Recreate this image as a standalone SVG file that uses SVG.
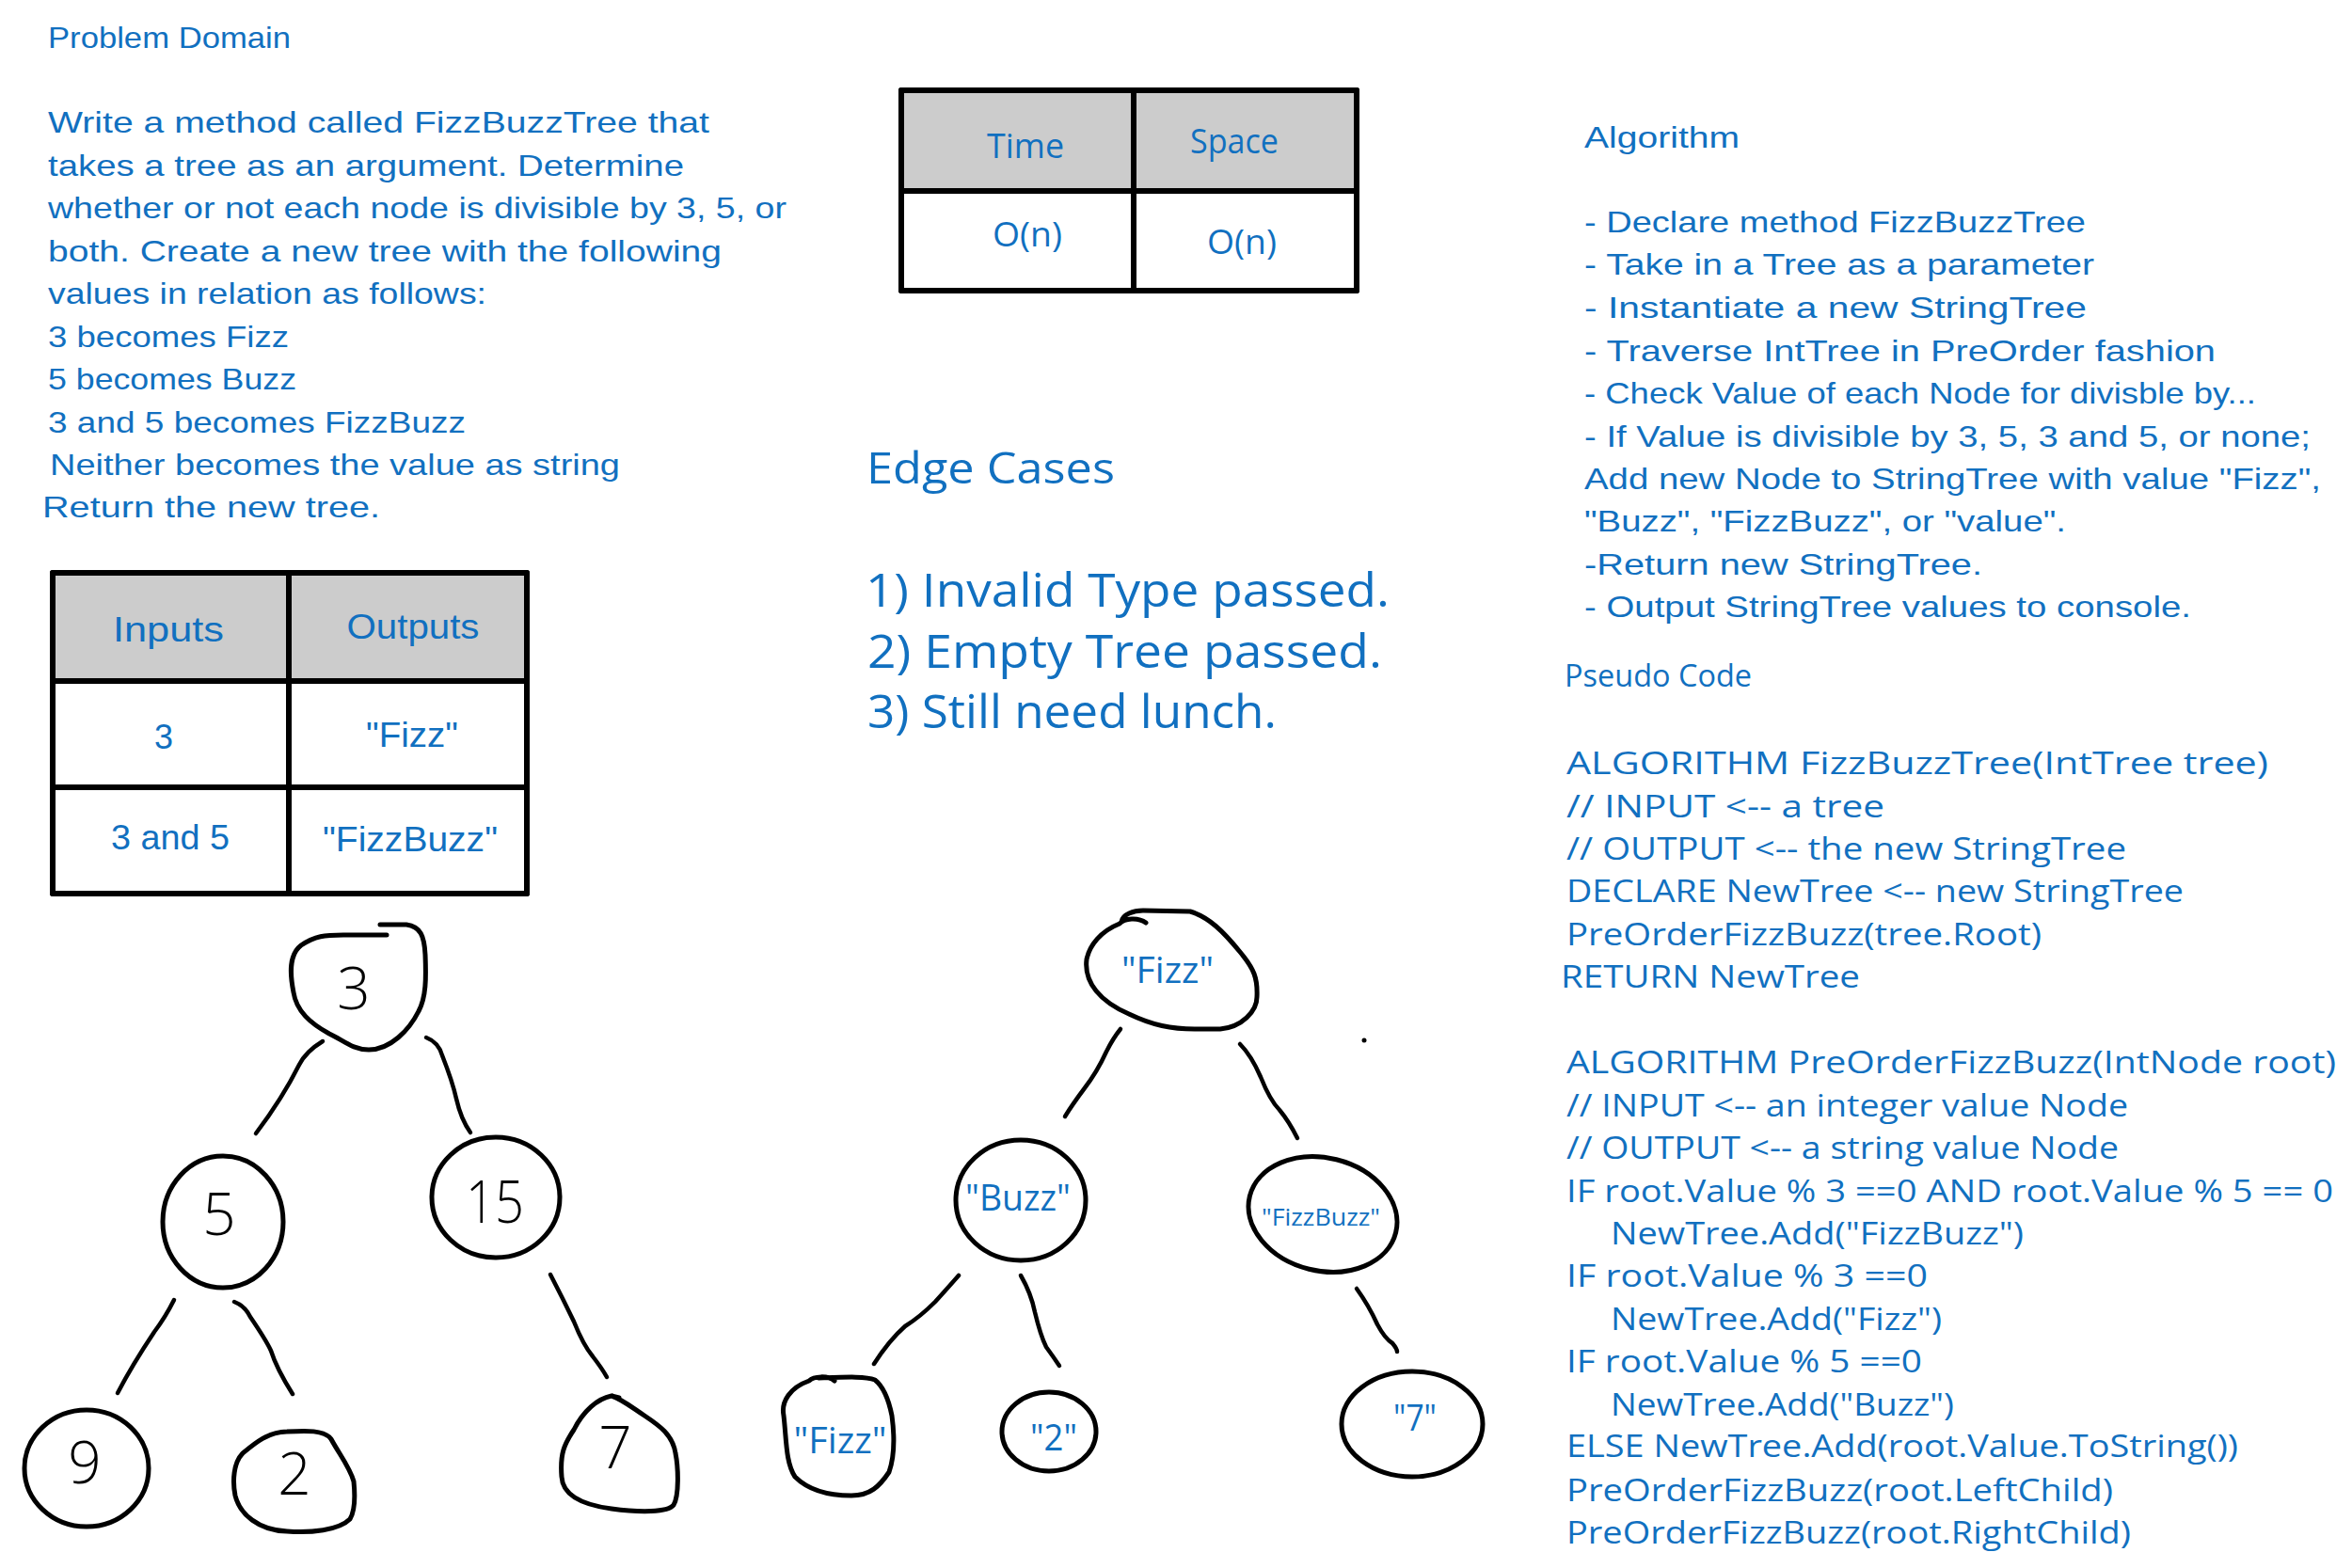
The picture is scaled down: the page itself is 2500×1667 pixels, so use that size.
<svg xmlns="http://www.w3.org/2000/svg" width="2500" height="1667" viewBox="0 0 2500 1667">
<style>
.t{font-family:"Liberation Sans","DejaVu Sans",sans-serif;fill:#1170c0}
.c{font-size:32px}
.w{font-family:"Open Sans","Liberation Sans",sans-serif}
.p{font-size:32px}
.m{text-anchor:middle}
.ink{fill:none;stroke:#000;stroke-width:5;stroke-linecap:round;stroke-linejoin:round}
.edge{fill:none;stroke:#000;stroke-width:4.5;stroke-linecap:round;stroke-linejoin:round}
.tbl{stroke:#000;stroke-width:6;stroke-linecap:round}
.hdr{fill:#cccccc}
.dig{font-family:"Open Sans","Liberation Sans",sans-serif;font-weight:300;font-size:62px;fill:#000;text-anchor:middle}
.lab{font-size:38px;text-anchor:middle}
</style>
<rect width="2500" height="1667" fill="#fff"/>

<g id="problem-domain" class="t c">
<text x="51" y="51" textLength="258" lengthAdjust="spacingAndGlyphs">Problem Domain</text>
<text x="51" y="141" textLength="703" lengthAdjust="spacingAndGlyphs">Write a method called FizzBuzzTree that</text>
<text x="51" y="187" textLength="676" lengthAdjust="spacingAndGlyphs">takes a tree as an argument. Determine</text>
<text x="51" y="232" textLength="785" lengthAdjust="spacingAndGlyphs">whether or not each node is divisible by 3, 5, or</text>
<text x="51" y="278" textLength="716" lengthAdjust="spacingAndGlyphs">both. Create a new tree with the following</text>
<text x="51" y="323" textLength="466" lengthAdjust="spacingAndGlyphs">values in relation as follows:</text>
<text x="51" y="369" textLength="256" lengthAdjust="spacingAndGlyphs">3 becomes Fizz</text>
<text x="51" y="414" textLength="264" lengthAdjust="spacingAndGlyphs">5 becomes Buzz</text>
<text x="51" y="460" textLength="444" lengthAdjust="spacingAndGlyphs">3 and 5 becomes FizzBuzz</text>
<text x="53" y="505" textLength="606" lengthAdjust="spacingAndGlyphs">Neither becomes the value as string</text>
<text x="45" y="550" textLength="359" lengthAdjust="spacingAndGlyphs">Return the new tree.</text>
</g>

<g id="io-table">
<rect class="hdr" x="56" y="609" width="504" height="115"/>
<g class="tbl">
<line x1="56" y1="609" x2="560" y2="609"/>
<line x1="56" y1="724" x2="560" y2="724"/>
<line x1="56" y1="837" x2="560" y2="837"/>
<line x1="56" y1="950" x2="560" y2="950"/>
<line x1="56" y1="609" x2="56" y2="950"/>
<line x1="307" y1="609" x2="307" y2="950"/>
<line x1="560" y1="609" x2="560" y2="950"/>
</g>
<g class="t m" font-size="36">
<text x="179" y="682" textLength="118" lengthAdjust="spacingAndGlyphs">Inputs</text>
<text x="439" y="679" textLength="141" lengthAdjust="spacingAndGlyphs">Outputs</text>
<text x="174" y="796">3</text>
<text x="438" y="794" textLength="98" lengthAdjust="spacingAndGlyphs">"Fizz"</text>
<text x="181" y="903" textLength="126" lengthAdjust="spacingAndGlyphs">3 and 5</text>
<text x="436" y="905" textLength="186" lengthAdjust="spacingAndGlyphs">"FizzBuzz"</text>
</g>
</g>

<g id="complexity-table">
<rect class="hdr" x="958" y="96" width="484" height="107"/>
<g class="tbl">
<line x1="958" y1="96" x2="1442" y2="96"/>
<line x1="958" y1="203" x2="1442" y2="203"/>
<line x1="958" y1="309" x2="1442" y2="309"/>
<line x1="958" y1="96" x2="958" y2="309"/>
<line x1="1205" y1="96" x2="1205" y2="309"/>
<line x1="1442" y1="96" x2="1442" y2="309"/>
</g>
<g class="t w m" font-size="36">
<text x="1090" y="168" textLength="82" lengthAdjust="spacingAndGlyphs">Time</text>
<text x="1312" y="163" textLength="94" lengthAdjust="spacingAndGlyphs">Space</text>
<text x="1092" y="262" textLength="74" lengthAdjust="spacingAndGlyphs">O(n)</text>
<text x="1320" y="270" textLength="74" lengthAdjust="spacingAndGlyphs">O(n)</text>
</g>
</g>

<g id="edge-cases" class="t w">
<text x="921" y="514" font-size="46" textLength="264" lengthAdjust="spacingAndGlyphs">Edge Cases</text>
<text x="920" y="645" font-size="50" textLength="557" lengthAdjust="spacingAndGlyphs">1) Invalid Type passed.</text>
<text x="922" y="710" font-size="50" textLength="547" lengthAdjust="spacingAndGlyphs">2) Empty Tree passed.</text>
<text x="922" y="774" font-size="50" textLength="435" lengthAdjust="spacingAndGlyphs">3) Still need lunch.</text>
</g>

<g id="algorithm" class="t c">
<text x="1684" y="157" textLength="165" lengthAdjust="spacingAndGlyphs">Algorithm</text>
<text x="1684" y="247" textLength="533" lengthAdjust="spacingAndGlyphs">- Declare method FizzBuzzTree</text>
<text x="1684" y="292" textLength="542" lengthAdjust="spacingAndGlyphs">- Take in a Tree as a parameter</text>
<text x="1684" y="338" textLength="534" lengthAdjust="spacingAndGlyphs">- Instantiate a new StringTree</text>
<text x="1684" y="384" textLength="671" lengthAdjust="spacingAndGlyphs">- Traverse IntTree in PreOrder fashion</text>
<text x="1684" y="429" textLength="714" lengthAdjust="spacingAndGlyphs">- Check Value of each Node for divisble by...</text>
<text x="1684" y="475" textLength="772" lengthAdjust="spacingAndGlyphs">- If Value is divisible by 3, 5, 3 and 5, or none;</text>
<text x="1684" y="520" textLength="783" lengthAdjust="spacingAndGlyphs">Add new Node to StringTree with value "Fizz",</text>
<text x="1684" y="565" textLength="512" lengthAdjust="spacingAndGlyphs">"Buzz", "FizzBuzz", or "value".</text>
<text x="1684" y="611" textLength="423" lengthAdjust="spacingAndGlyphs">-Return new StringTree.</text>
<text x="1684" y="656" textLength="645" lengthAdjust="spacingAndGlyphs">- Output StringTree values to console.</text>
</g>

<g id="pseudo-code" class="t w p">
<text x="1663" y="730" textLength="199" lengthAdjust="spacingAndGlyphs">Pseudo Code</text>
<text x="1665" y="823" textLength="746" lengthAdjust="spacingAndGlyphs">ALGORITHM FizzBuzzTree(IntTree tree)</text>
<text x="1665" y="869" textLength="338" lengthAdjust="spacingAndGlyphs">// INPUT &lt;-- a tree</text>
<text x="1665" y="914" textLength="595" lengthAdjust="spacingAndGlyphs">// OUTPUT &lt;-- the new StringTree</text>
<text x="1665" y="959" textLength="656" lengthAdjust="spacingAndGlyphs">DECLARE NewTree &lt;-- new StringTree</text>
<text x="1665" y="1005" textLength="505" lengthAdjust="spacingAndGlyphs">PreOrderFizzBuzz(tree.Root)</text>
<text x="1659" y="1050" textLength="318" lengthAdjust="spacingAndGlyphs">RETURN NewTree</text>
<text x="1665" y="1141" textLength="818" lengthAdjust="spacingAndGlyphs">ALGORITHM PreOrderFizzBuzz(IntNode root)</text>
<text x="1665" y="1187" textLength="597" lengthAdjust="spacingAndGlyphs">// INPUT &lt;-- an integer value Node</text>
<text x="1665" y="1232" textLength="587" lengthAdjust="spacingAndGlyphs">// OUTPUT &lt;-- a string value Node</text>
<text x="1665" y="1278" textLength="815" lengthAdjust="spacingAndGlyphs">IF root.Value % 3 ==0 AND root.Value % 5 == 0</text>
<text x="1712" y="1323" textLength="439" lengthAdjust="spacingAndGlyphs">NewTree.Add("FizzBuzz")</text>
<text x="1665" y="1368" textLength="384" lengthAdjust="spacingAndGlyphs">IF root.Value % 3 ==0</text>
<text x="1712" y="1414" textLength="352" lengthAdjust="spacingAndGlyphs">NewTree.Add("Fizz")</text>
<text x="1665" y="1459" textLength="378" lengthAdjust="spacingAndGlyphs">IF root.Value % 5 ==0</text>
<text x="1712" y="1505" textLength="365" lengthAdjust="spacingAndGlyphs">NewTree.Add("Buzz")</text>
<text x="1665" y="1549" textLength="714" lengthAdjust="spacingAndGlyphs">ELSE NewTree.Add(root.Value.ToString())</text>
<text x="1665" y="1596" textLength="581" lengthAdjust="spacingAndGlyphs">PreOrderFizzBuzz(root.LeftChild)</text>
<text x="1665" y="1641" textLength="600" lengthAdjust="spacingAndGlyphs">PreOrderFizzBuzz(root.RightChild)</text>
</g>

<g id="connectors">
<path class="edge" d="M343,1107 Q325,1118 318,1132 Q300,1168 272,1205"/>
<path class="edge" d="M453,1103 Q466,1108 470,1122 Q481,1150 485,1168 Q490,1190 500,1204"/>
<path class="edge" d="M185,1382 Q176,1400 164,1416 Q140,1452 125,1481"/>
<path class="edge" d="M249,1384 Q260,1388 266,1400 Q283,1425 288,1436 Q294,1455 311,1482"/>
<path class="edge" d="M585,1355 Q598,1380 610,1405 Q620,1430 630,1442 Q640,1455 645,1464"/>
<path class="edge" d="M1191,1094 Q1183,1104 1176,1118 Q1166,1140 1152,1158 Q1140,1174 1132,1187"/>
<path class="edge" d="M1318,1110 Q1330,1122 1340,1145 Q1350,1170 1360,1180 Q1370,1192 1379,1210"/>
<path class="edge" d="M1019,1356 Q1005,1372 994,1384 Q978,1400 962,1410 Q945,1425 929,1450"/>
<path class="edge" d="M1085,1356 Q1096,1375 1100,1395 Q1106,1420 1112,1432 Q1120,1443 1126,1452"/>
<path class="edge" d="M1442,1370 Q1455,1388 1464,1408 Q1472,1423 1480,1428 Q1485,1434 1485,1437"/>
<circle cx="1450" cy="1106" r="2.5" fill="#000"/>
</g>

<g id="node-3">
<path class="ink" d="M404,983 L432,983 C447,985 451,995 452,1015 C453,1040 453,1060 445,1075 C435,1095 415,1116 392,1116 C375,1116 365,1106 350,1099 C330,1088 315,1075 312,1055 C308,1035 307,1015 320,1005 C335,995 345,994 365,994 L411,994"/>
<text class="dig" x="376" y="1073">3</text>
</g>
<g id="node-5">
<ellipse class="ink" cx="237" cy="1299" rx="64" ry="70"/>
<text class="dig" x="233" y="1313">5</text>
</g>
<g id="node-15">
<ellipse class="ink" cx="527" cy="1273" rx="68" ry="64"/>
<text class="dig" x="526" y="1300" textLength="62" lengthAdjust="spacingAndGlyphs">15</text>
</g>
<g id="node-9">
<ellipse class="ink" cx="92" cy="1561" rx="66" ry="62"/>
<text class="dig" x="90" y="1577">9</text>
</g>
<g id="node-2">
<path class="ink" d="M305,1522 C285,1522 270,1535 258,1545 C248,1555 247,1575 250,1590 C255,1610 275,1627 305,1628 C330,1630 360,1627 372,1615 C378,1605 377,1585 376,1575 C372,1560 360,1545 352,1530 C345,1520 325,1521 305,1522 Z"/>
<text class="dig" x="313" y="1589">2</text>
</g>
<g id="node-7">
<path class="ink" d="M650,1484 C635,1487 620,1500 610,1520 C600,1535 595,1545 597,1570 C598,1590 620,1600 650,1604 C680,1608 710,1608 716,1600 C722,1590 721,1560 718,1545 C715,1525 700,1515 685,1505 C670,1495 660,1487 650,1484 L658,1486"/>
<text class="dig" x="654" y="1561">7</text>
</g>

<g id="node-fizz-root">
<path class="ink" d="M1218,981 C1210,975 1195,976 1190,982 C1170,990 1158,1005 1155,1020 C1152,1045 1170,1065 1200,1078 C1225,1090 1245,1094 1270,1094 L1297,1094 C1320,1092 1336,1075 1336,1060 C1337,1040 1333,1030 1318,1012 C1300,990 1285,975 1265,969 L1215,968 C1205,968 1193,972 1192,980"/>
<text class="t w lab" x="1241" y="1045" textLength="98" lengthAdjust="spacingAndGlyphs">"Fizz"</text>
</g>
<g id="node-buzz">
<ellipse class="ink" cx="1085" cy="1276" rx="69" ry="64" stroke-width="6"/>
<text class="t w lab" x="1082" y="1287" textLength="112" lengthAdjust="spacingAndGlyphs">"Buzz"</text>
</g>
<g id="node-fizzbuzz">
<ellipse class="ink" cx="1406" cy="1291" rx="80" ry="60" stroke-width="6" transform="rotate(14 1406 1291)"/>
<text class="t w" x="1404" y="1303" font-size="26" text-anchor="middle" textLength="126" lengthAdjust="spacingAndGlyphs">"FizzBuzz"</text>
</g>
<g id="node-fizz-leaf">
<path class="ink" d="M887,1468 C880,1462 865,1463 860,1468 C840,1475 830,1490 833,1505 C836,1530 835,1555 845,1570 C860,1585 880,1590 905,1590 C925,1590 935,1580 945,1565 C952,1545 950,1520 948,1505 C945,1490 940,1475 930,1467 C920,1463 900,1464 870,1465"/>
<text class="t w lab" x="893" y="1545" textLength="99" lengthAdjust="spacingAndGlyphs">"Fizz"</text>
</g>
<g id="node-2-str">
<ellipse class="ink" cx="1115" cy="1522" rx="50" ry="42" stroke-width="6"/>
<text class="t w lab" x="1120" y="1542" textLength="50" lengthAdjust="spacingAndGlyphs">"2"</text>
</g>
<g id="node-7-str">
<ellipse class="ink" cx="1501" cy="1514" rx="75" ry="56" stroke-width="6"/>
<text class="t w lab" x="1504" y="1521" textLength="46" lengthAdjust="spacingAndGlyphs">"7"</text>
</g>
</svg>
